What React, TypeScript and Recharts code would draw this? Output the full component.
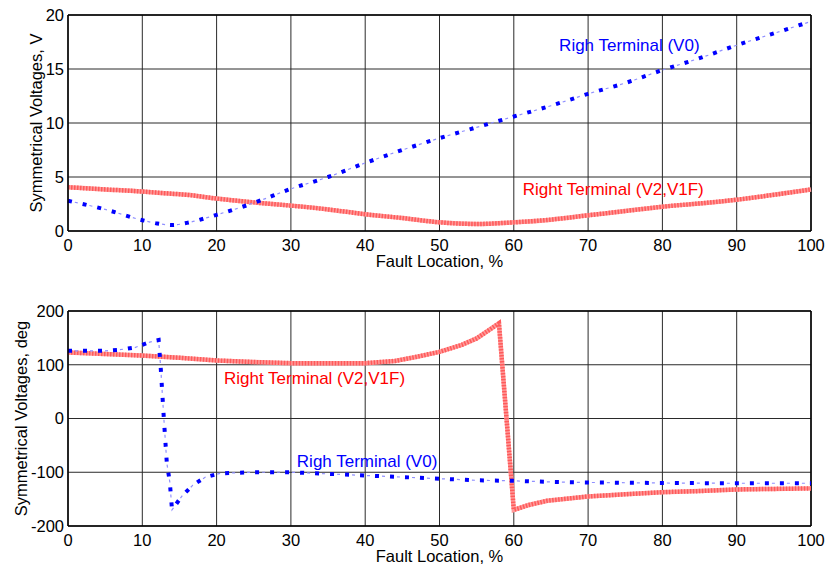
import React from "react";
import { LineChart, Line, XAxis, YAxis, CartesianGrid, ReferenceDot, ReferenceLine } from "recharts";

const FONT = "'Liberation Sans', Arial, Helvetica, sans-serif";

// upper panel: magnitudes (V) vs fault location (%)
const magX = [0, 5, 10, 12, 14, 16, 20, 25, 30, 35, 40, 45, 50, 55, 60, 65, 70, 75, 80, 85, 90, 95, 100];
const magV0 = [2.8, 2.0, 1.0, 0.7, 0.55, 0.75, 1.5, 2.6, 3.9, 5.0, 6.3, 7.5, 8.6, 9.6, 10.6, 11.6, 12.7, 13.7, 14.9, 16.0, 17.2, 18.3, 19.4];
const magV2 = [4.05, 3.85, 3.65, 3.55, 3.45, 3.35, 3.0, 2.65, 2.35, 2.0, 1.55, 1.2, 0.8, 0.65, 0.8, 1.05, 1.45, 1.85, 2.25, 2.55, 2.9, 3.35, 3.85];

// lower panel: angles (deg)
const angV0X = [0, 2, 5, 7, 9, 11, 12.2, 12.5, 12.9, 13.3, 13.7, 14.0, 15.3, 16.8, 18.5, 20.5, 22.5, 25, 30, 35, 40, 45, 50, 55, 60, 65, 70, 80, 90, 100];
const angV0 = [126, 126, 126, 128, 132, 142, 146, 90, 0, -83, -118, -170, -145, -124, -109, -102, -101, -100, -100, -103, -106, -109, -112, -115, -116, -118, -119, -120, -120.5, -120.5];
const angV2X = [0, 10, 15, 20, 25, 30, 35, 40, 44, 47, 50, 53, 55, 58, 60, 62, 64.5, 70, 75, 80, 85, 90, 95, 100];
const angV2 = [123, 117, 113, 108, 105, 103, 103, 103, 107, 115, 124, 137, 149, 177, -170, -161, -153, -145, -141, -137, -135, -132, -131, -130];

const xTicks = [0, 10, 20, 30, 40, 50, 60, 70, 80, 90, 100];
const magTicks = [0, 5, 10, 15, 20];
const angTicks = [-200, -100, 0, 100, 200];

const rows = (xs: number[], ys: number[]) => xs.map((x, i) => ({ x, a: ys[i], b: ys[i] }));

function Note({ viewBox, text, color }: any) {
  return (
    <text x={viewBox.x} y={viewBox.y} fill={color} fontSize={17} fontFamily={FONT} dominantBaseline="central">
      {text}
    </text>
  );
}

function YTitle({ viewBox, text, dx }: any) {
  const cx = viewBox.x + dx;
  const cy = viewBox.y + viewBox.height / 2;
  return (
    <text x={cx} y={cy} transform={`rotate(-90 ${cx} ${cy})`} textAnchor="middle" dominantBaseline="central" fontSize={16.5} fontFamily={FONT} fill="#000">
      {text}
    </text>
  );
}

function XTitle({ viewBox }: any) {
  return (
    <text x={viewBox.x + viewBox.width / 2} y={viewBox.y + 30} textAnchor="middle" dominantBaseline="central" fontSize={16.5} fontFamily={FONT} fill="#000">
      Fault Location, %
    </text>
  );
}

const tickStyle = { fill: "#000", fontSize: 16.5, fontFamily: FONT };

// red = thick striped line, blue = MATLAB style dash-dot (thick dots + thin light dashes)
function Panel({ height, top, bottom, domain, yTicks, yTitle, yTitleDx, v2, v0, smooth, notes }: any) {
  const type = smooth ? "monotone" : "linear";
  return (
    <LineChart width={825} height={height} margin={{ top, right: 14, bottom, left: 0 }}>
      <CartesianGrid stroke="#2a2a2a" strokeWidth={1} />
      <XAxis
        type="number"
        dataKey="x"
        domain={[0, 100]}
        ticks={xTicks}
        height={40}
        tick={tickStyle}
        tickLine={false}
        axisLine={{ stroke: "#000", strokeWidth: 1.5 }}
        label={<XTitle />}
      />
      <YAxis
        type="number"
        domain={domain}
        ticks={yTicks}
        width={68}
        tick={tickStyle}
        tickLine={false}
        tickSize={4}
        tickMargin={0}
        axisLine={{ stroke: "#000", strokeWidth: 1.5 }}
        label={<YTitle text={yTitle} dx={yTitleDx} />}
      />
      <ReferenceLine y={domain[1]} stroke="#000" strokeWidth={1.5} />
      <ReferenceLine x={100} stroke="#000" strokeWidth={1.5} />
      <Line data={v2} dataKey="a" type={type} stroke="#ff9a9a" strokeWidth={4.5} dot={false} activeDot={false} isAnimationActive={false} />
      <Line data={v2} dataKey="b" type={type} stroke="#ff5a5a" strokeWidth={4.5} strokeDasharray="1.5 1.5" dot={false} activeDot={false} isAnimationActive={false} />
      <Line data={v0} dataKey="a" type={type} stroke="#9090ff" strokeWidth={1.2} strokeDasharray="0 7 3 5" dot={false} activeDot={false} isAnimationActive={false} />
      <Line data={v0} dataKey="b" type={type} stroke="#0000ff" strokeWidth={4} strokeDasharray="4 11" dot={false} activeDot={false} isAnimationActive={false} />
      {notes.map((n: any, i: number) => (
        <ReferenceDot key={i} x={n.x} y={n.y} r={0} fill="none" stroke="none" label={<Note text={n.text} color={n.color} />} />
      ))}
    </LineChart>
  );
}

export default function App() {
  return (
    <div style={{ position: "absolute", left: 0, top: 0, width: 825, height: 571, background: "#fff" }}>
      <Panel
        height={285}
        top={15}
        bottom={14}
        domain={[0, 20]}
        yTicks={magTicks}
        yTitle="Symmetrical Voltages, V"
        yTitleDx={36}
        v2={rows(magX, magV2)}
        v0={rows(magX, magV0)}
        smooth
        notes={[
          { x: 66.1, y: 17.2, text: "Righ Terminal (V0)", color: "#0000ff" },
          { x: 61.2, y: 3.8, text: "Right Terminal (V2,V1F)", color: "#ff0000" },
        ]}
      />
      <Panel
        height={286}
        top={26}
        bottom={5}
        domain={[-200, 200]}
        yTicks={angTicks}
        yTitle="Symmetrical Voltages, deg"
        yTitleDx={21}
        v2={rows(angV2X, angV2)}
        v0={rows(angV0X, angV0)}
        notes={[
          { x: 21.0, y: 75, text: "Right Terminal (V2,V1F)", color: "#ff0000" },
          { x: 30.8, y: -80, text: "Righ Terminal (V0)", color: "#0000ff" },
        ]}
      />
    </div>
  );
}
